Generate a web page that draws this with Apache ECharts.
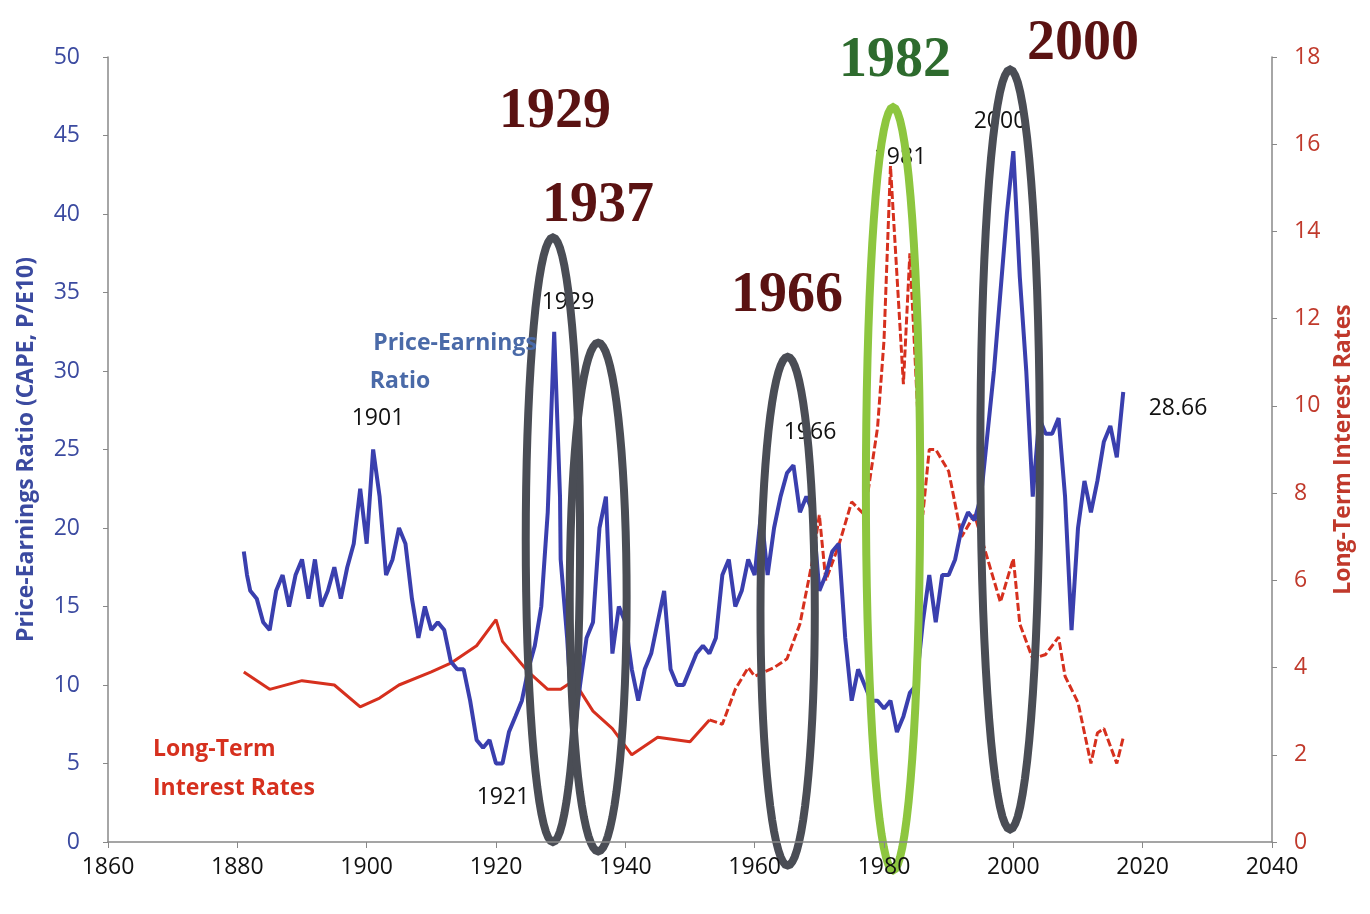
<!DOCTYPE html>
<html><head><meta charset="utf-8">
<script src="https://cdn.jsdelivr.net/npm/echarts@6/dist/echarts.min.js"></script>
<style>html,body{margin:0;background:#fff}#c{width:1370px;height:914px}</style>
</head><body><div id="c"></div>
<script>
const xTicks = [1860,1880,1900,1920,1940,1960,1980,2000,2020,2040];
const capeYears = [1881,1881.5,1882,1883,1884,1885,1886,1887,1888,1889,1890,1891,1892,1893,1894,1895,1896,1897,1898,1899,1900,1901,1902,1903,1904,1905,1906,1907,1908,1909,1910,1911,1912,1913,1914,1915,1916,1917,1918,1919,1920,1921,1922,1923,1924,1925,1926,1927,1928,1929,1929.9,1930,1931,1932,1933,1934,1935,1936,1937,1937.9,1938,1939,1940,1941,1942,1943,1944,1945,1946,1947,1948,1949,1950,1951,1952,1953,1954,1955,1956,1957,1958,1959,1960,1961,1962,1963,1964,1965,1966,1967,1968,1969,1970,1971,1972,1973,1974,1975,1976,1977,1978,1979,1980,1981,1982,1983,1984,1985,1986,1987,1988,1989,1990,1991,1992,1993,1994,1995,1996,1997,1998,1999,2000,2001,2002,2003,2004,2005,2006,2007,2008,2009,2010,2011,2012,2013,2014,2015,2016,2017];
const capeValues = [18.5,17,16,15.5,14,13.5,16,17,15,17,18,15.5,18,15,16,17.5,15.5,17.5,19,22.5,19,25,22,17,18,20,19,15.5,13,15,13.5,14,13.5,11.5,11,11,9,6.5,6,6.5,5,5,7,8,9,11,12.5,15,21,32.5,22,18,13,6.5,10,13,14,20,22,13,12,15,14,11,9,11,12,14,16,11,10,10,11,12,12.5,12,13,17,18,15,16,18,17,21,17,20,22,23.5,24,21,22,21,16,17,18.5,19,13,9,11,10,9,9,8.5,9,7,8,9.5,10,14,17,14,17,17,18,20,21,20.5,22,26,30,35,40,44,36,30,22,27,26,26,27,22,13.5,20,23,21,23,25.5,26.5,24.5,28.66];
const rateYearsA = [1881,1885,1890,1895,1899,1902,1905,1910,1913,1917,1920,1921,1925,1928,1930,1932,1935,1938,1940,1941,1945,1950,1953];
const rateValuesA = [3.9,3.5,3.7,3.6,3.1,3.3,3.6,3.9,4.1,4.5,5.1,4.6,3.9,3.5,3.5,3.7,3.0,2.6,2.2,2.0,2.4,2.3,2.8];
const rateYearsB = [1953,1955,1957,1959,1960,1963,1965,1967,1969,1970,1971,1973,1975,1977,1979,1980,1981,1982,1983,1984,1985,1986,1987,1988,1990,1992,1994,1996,1998,2000,2001,2003,2005,2007,2008,2010,2012,2013,2014,2016,2017];
const rateValuesB = [2.8,2.7,3.5,4.0,3.8,4.0,4.2,5.0,6.5,7.5,6.0,6.8,7.8,7.5,9.5,11.5,15.5,13,10.5,13.5,10.5,7.5,9,9,8.5,7,7.5,6.5,5.5,6.5,5.0,4.2,4.3,4.7,3.8,3.2,1.8,2.5,2.6,1.8,2.4];
const ellYear = [1928.8,1935.8,1965.1,1981.4,1999.5];
const ellTop = [38.5,31.8,30.9,46.8,49.2];
const ellBottom = [0,-0.6,-1.5,-1.8,0.8];
const ellHalfW = [4.2,4.4,4.2,4.2,4.6];
const ellColor = ['#4a4d55','#4a4d55','#4a4d55','#8dc63f','#4a4d55'];

const chart = echarts.init(document.getElementById('c'));
const ellData = ellYear.map((y,i)=>[y,ellTop[i],ellBottom[i],ellHalfW[i],i]);
chart.setOption({
  animation:false,
  grid:{left:108,right:98,top:57,bottom:72},
  xAxis:{type:'value',min:1860,max:2040,interval:20,z:10,
    axisLine:{lineStyle:{color:'#888',width:1.5}},axisTick:{show:true,length:6,lineStyle:{color:'#888'}},
    splitLine:{show:false},axisLabel:{color:'#111',fontSize:23,fontFamily:'Open Sans',margin:14,formatter:v=>String(v)}},
  yAxis:[
    {type:'value',min:0,max:50,interval:5,name:'Price-Earnings Ratio (CAPE, P/E10)',nameLocation:'middle',nameGap:70,
     nameTextStyle:{color:'#3b4aa0',fontSize:23,fontWeight:'bold',fontFamily:'Open Sans'},
     axisLine:{show:true,lineStyle:{color:'#888',width:1.5}},axisTick:{show:true,lineStyle:{color:'#888'}},
     splitLine:{show:false},axisLabel:{color:'#3b4aa0',fontSize:23,fontFamily:'Open Sans',margin:28}},
    {type:'value',min:0,max:18,interval:2,name:'Long-Term Interest Rates',nameLocation:'middle',nameGap:60,nameRotate:90,
     nameTextStyle:{color:'#c0392b',fontSize:23,fontWeight:'bold',fontFamily:'Open Sans'},
     axisLine:{show:true,lineStyle:{color:'#888',width:1.5}},axisTick:{show:true,lineStyle:{color:'#888'}},
     splitLine:{show:false},axisLabel:{color:'#c0392b',fontSize:23,fontFamily:'Open Sans',margin:22}}
  ],
  series:[
    {type:'line',yAxisIndex:1,data:rateYearsA.map((y,i)=>[y,rateValuesA[i]]),symbol:'none',lineStyle:{color:'#d6301e',width:3}},
    {type:'line',yAxisIndex:1,data:rateYearsB.map((y,i)=>[y,rateValuesB[i]]),symbol:'none',lineStyle:{color:'#d6301e',width:3,type:[8,3]}},
    {type:'line',yAxisIndex:0,data:capeYears.map((y,i)=>[y,capeValues[i]]),symbol:'none',lineStyle:{color:'#3a3fae',width:4}},
    {type:'custom',yAxisIndex:0,clip:false,data:ellData,z:5,
     renderItem:function(params,api){
       const cx=api.value(0),top=api.value(1),bot=api.value(2),hw=api.value(3),idx=api.value(4);
       const pt=api.coord([cx,top]),pb=api.coord([cx,bot]),pr=api.coord([cx+hw,top]);
       const ccx=pt[0],ccy=(pt[1]+pb[1])/2,ry=(pb[1]-pt[1])/2,rx=pr[0]-pt[0];
       const pts=[];for(let k=0;k<72;k++){const a=k/72*Math.PI*2;pts.push([ccx+rx*Math.cos(a),ccy+ry*Math.sin(a)]);}
       return {type:'polygon',shape:{points:pts},style:{fill:'none',stroke:ellColor[idx],lineWidth:8}};
     }}
  ],
  graphic:[
    ...[['1929',555,113,'#5a1212'],['1937',598,207,'#5a1212'],['1966',787,297,'#5a1212'],['1982',895,62,'#2e6b2e'],['2000',1083,45,'#5a1212']].map(t=>({type:'text',x:t[1],y:t[2],z:20,style:{text:t[0],fill:t[3],font:'bold 56px "Liberation Serif", "DejaVu Serif", serif',textAlign:'center',textVerticalAlign:'middle'}})),
    ...[['1901',378,418],['1929',568,302],['1921',503,797],['1966',810,432],['1981',900,157],['2000',1000,121],['28.66',1178,408]].map(t=>({type:'text',x:t[1],y:t[2],z:1,style:{text:t[0],fill:'#111',font:'23px "Open Sans", sans-serif',textAlign:'center',textVerticalAlign:'middle'}})),
    {type:'text',x:455,y:343,z:20,style:{text:'Price-Earnings',fill:'#4a6aa8',font:'bold 23px "Open Sans", sans-serif',textAlign:'center',textVerticalAlign:'middle'}},
    {type:'text',x:400,y:381,z:20,style:{text:'Ratio',fill:'#4a6aa8',font:'bold 23px "Open Sans", sans-serif',textAlign:'center',textVerticalAlign:'middle'}},
    {type:'text',x:153,y:749,z:20,style:{text:'Long-Term',fill:'#d6301e',font:'bold 23px "Open Sans", sans-serif',textAlign:'left',textVerticalAlign:'middle'}},
    {type:'text',x:153,y:788,z:20,style:{text:'Interest Rates',fill:'#d6301e',font:'bold 23px "Open Sans", sans-serif',textAlign:'left',textVerticalAlign:'middle'}}
  ]
});
</script></body></html>
